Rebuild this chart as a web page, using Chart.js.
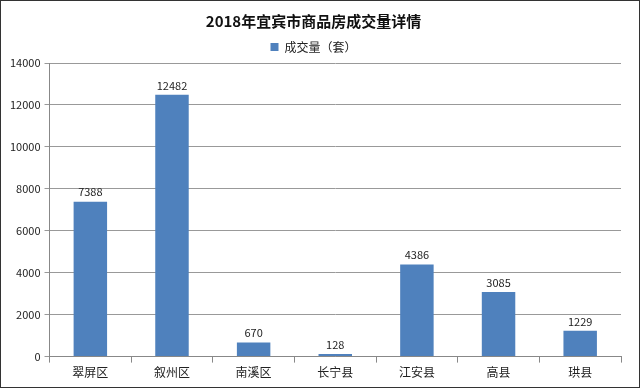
<!DOCTYPE html>
<html lang="zh">
<head>
    <meta charset="UTF-8">
    <title>2018年宜宾市商品房成交量详情</title>
    <script src="https://cdn.jsdelivr.net/npm/chart.js"></script>
    <style>
        html, body { margin: 0; padding: 0; background: #fff; }
        #wrap { width: 638px; height: 386px; border: 1px solid #333; }
    </style>
</head>
<body>
    <div id="wrap"><canvas id="salesChart" width="638" height="386"></canvas></div>

    <script>
        // Data
        const districts = ['翠屏区', '叙州区', '南溪区', '长宁县', '江安县', '高县', '珙县'];
        const volumes = [7388, 12482, 670, 128, 4386, 3085, 1229];
        const yTicks = [0, 2000, 4000, 6000, 8000, 10000, 12000, 14000];

        const font = '"Noto Sans CJK SC", "Microsoft YaHei", sans-serif';

        // values above each bar
        const barLabels = {
            id: 'barLabels',
            afterDatasetsDraw(chart) {
                const c = chart.ctx;
                const meta = chart.getDatasetMeta(0);
                c.save();
                c.font = '11px ' + font;
                c.fillStyle = '#222';
                c.textAlign = 'center';
                c.textBaseline = 'bottom';
                meta.data.forEach(function (bar, i) {
                    c.fillText(volumes[i], bar.x, bar.y - 4);
                });
                c.restore();
            }
        };

        const ctx = document.getElementById('salesChart').getContext('2d');
        new Chart(ctx, {
            type: 'bar',
            data: {
                labels: districts,
                datasets: [{
                    label: '成交量（套）',
                    data: volumes,
                    backgroundColor: '#4F81BD',
                    categoryPercentage: 0.82,
                    barPercentage: 0.5
                }]
            },
            options: {
                responsive: false,
                animation: false,
                layout: { padding: { left: 5, right: 18, top: 7, bottom: 4 } },
                plugins: {
                    title: {
                        display: true,
                        text: '2018年宜宾市商品房成交量详情',
                        color: '#111',
                        font: { family: font, size: 15, weight: 'bold' },
                        padding: { top: 4, bottom: 2 }
                    },
                    legend: {
                        labels: {
                            boxWidth: 8,
                            boxHeight: 8,
                            padding: 9,
                            color: '#222',
                            font: { family: font, size: 12 }
                        }
                    },
                    tooltip: { enabled: false }
                },
                scales: {
                    x: {
                        grid: { drawOnChartArea: false, color: '#888', tickLength: 6 },
                        border: { color: '#888' },
                        ticks: { color: '#222', font: { family: font, size: 12 } }
                    },
                    y: {
                        min: 0,
                        max: 14000,
                        afterBuildTicks(axis) { axis.ticks = yTicks.map(v => ({ value: v })); },
                        grid: { color: '#999', tickLength: 5 },
                        border: { color: '#888' },
                        ticks: {
                            color: '#222',
                            font: { family: font, size: 11 },
                            padding: 4,
                            callback: v => String(v)
                        }
                    }
                }
            },
            plugins: [barLabels]
        });
    </script>
</body>
</html>
